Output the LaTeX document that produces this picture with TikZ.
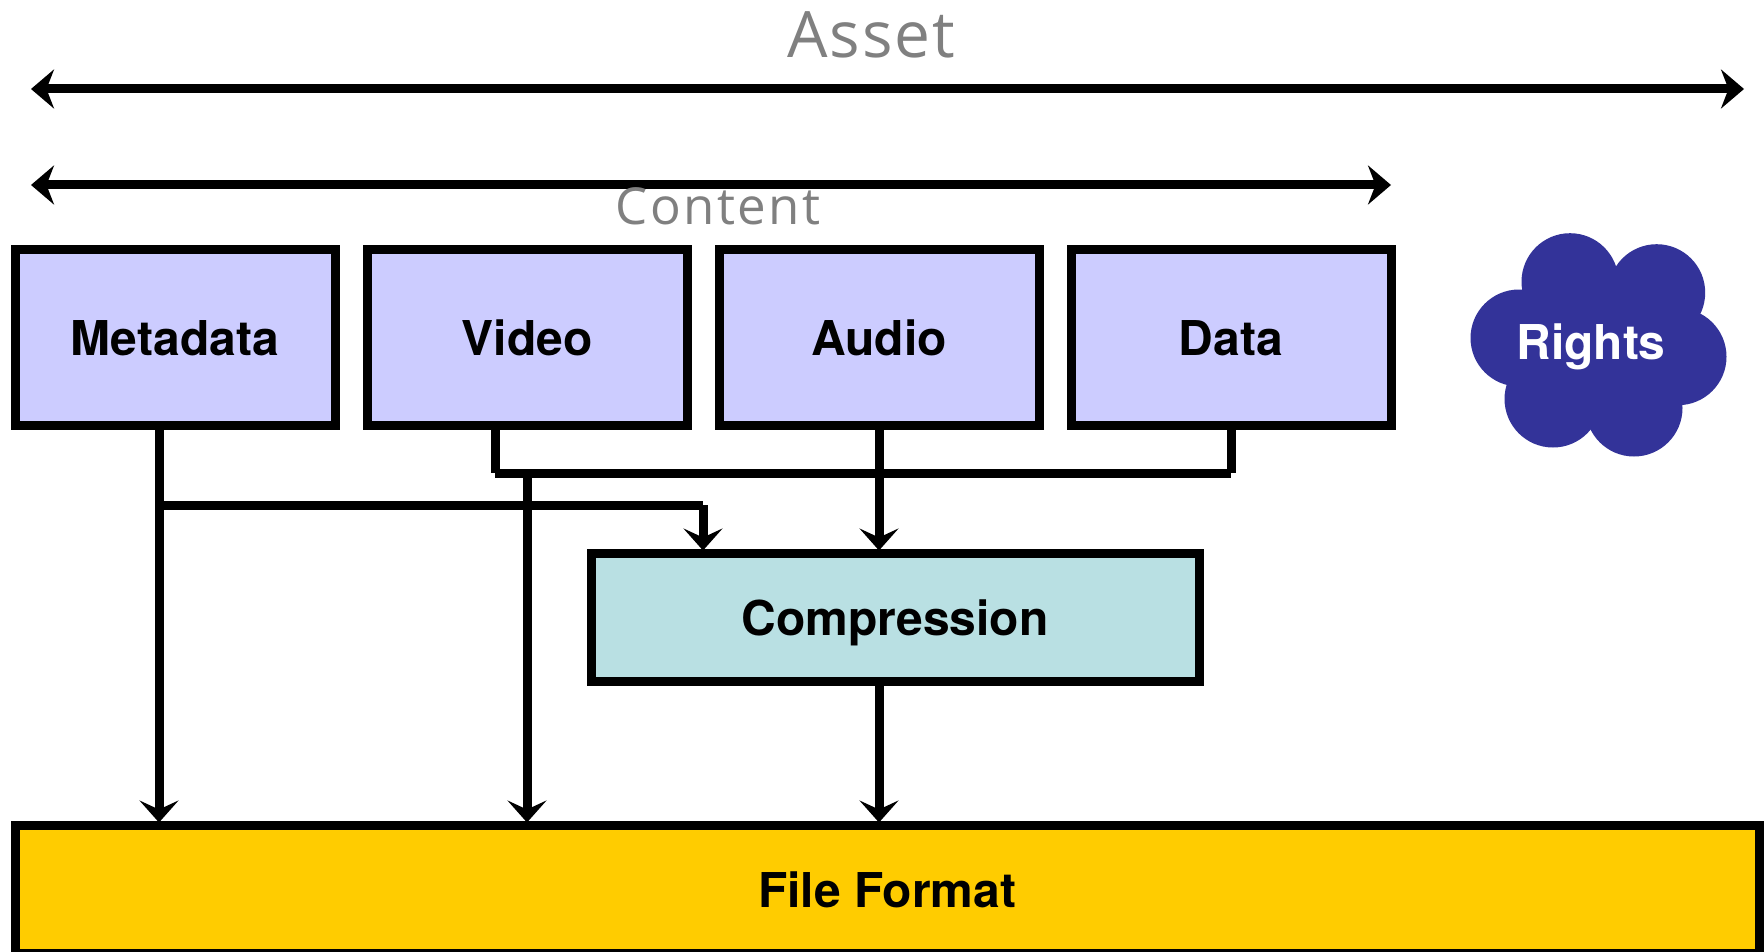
\documentclass[tikz,border=0pt]{standalone}
\usepackage{fontspec}
\setmainfont{TeX Gyre Heros}
\newfontfamily\spanfont{Open Sans}
\usetikzlibrary{arrows.meta}
\definecolor{stagefill}{HTML}{CCCCFF}
\definecolor{compfill}{HTML}{B9E0E3}
\definecolor{formatfill}{HTML}{FFCC00}
\definecolor{rightsfill}{HTML}{333399}
\tikzset{
  labelbase/.style={inner sep=0pt, text height=37pt, text depth=0pt, font=\fontsize{48}{48}\selectfont\bfseries},
  boxbase/.style={labelbase, draw=black, line width=9pt},
  stagebox/.style={boxbase, fill=stagefill, minimum width=320pt, minimum height=176pt},
  compbox/.style={boxbase, fill=compfill, minimum width=608pt, minimum height=128pt},
  formatbox/.style={boxbase, fill=formatfill, minimum width=1744pt, minimum height=128pt},
  wire/.style={line width=9pt},
  wirearrow/.style={wire, shorten >=-2pt, -{Stealth[length=22pt,width=39pt,inset=9pt]}},
  spanarrow/.style={wire, {Stealth[length=23pt,width=39pt,inset=7.5pt]}-{Stealth[length=23pt,width=39pt,inset=7.5pt]}},
  spanlabel/.style={text=gray, anchor=base}
}
\begin{document}
\begin{tikzpicture}[x=1pt,y=-1pt]
  \useasboundingbox (0,0) rectangle (1764,952);

  %% spans
  \coordinate (assetl) at (31,89);
  \coordinate (assetr) at (1744,89);
  \coordinate (contentl) at (31,185);
  \coordinate (contentr) at (1391,185);
  \draw[spanarrow] (assetl) -- (assetr);
  \draw[spanarrow] (contentl) -- (contentr);
  \node[spanlabel, font=\fontsize{64}{64}\selectfont\spanfont\addfontfeature{LetterSpace=3}] (asset) at (871,57.3) {Asset};
  \node[spanlabel, font=\fontsize{51}{51}\selectfont\spanfont\addfontfeature{LetterSpace=4.6}] (content) at (718,225) {Content};

  %% essence boxes
  \node[stagebox] (metadata) at (175,337) {Metadata};
  \node[stagebox] (video) at (527,337) {Video};
  \node[stagebox] (audio) at (879,337) {Audio};
  \node[stagebox] (data) at (1231,337) {Data};
  \node[compbox] (compression) at (895,617) {Compression};
  \node[formatbox] (format) at (887,889) {File Format};

  %% rights
  \foreach \cx/\cy in {1570/281.7, 1656.7/292.7, 1678/356.7, 1634/408, 1553/399, 1519/338}
    \fill[rightsfill] (\cx,\cy) circle (48.5);
  \fill[rightsfill] (1597,345) circle (72);
  \node[labelbase, text=white] (rights) at (1591,341) {Rights};

  %% bus
  \coordinate (busl) at ([xshift=-32pt]video.south |- 0,473);
  \coordinate (busr) at (data.south |- busl);
  \coordinate (busv) at (video.south |- busl);
  \coordinate (mdrop) at ([xshift=-16pt]metadata.south);
  \coordinate (mbus) at (mdrop |- 0,505);
  \coordinate (mend) at ([xshift=-192pt]compression.north |- mbus);
  \draw[wire] ([xshift=-32pt]video.south) -- (busl);
  \draw[wire] (data.south) -- (busr);
  \draw[wire] (busl) -- (busr);
  \draw[wire] (mbus) -- (mend);

  %% arrows
  \draw[wirearrow] (mdrop) -- (mdrop |- format.north);
  \draw[wirearrow] (busv) -- (busv |- format.north);
  \draw[wirearrow] (audio.south) -- (audio.south |- compression.north);
  \draw[wirearrow] (mend) -- ([xshift=-192pt]compression.north);
  \draw[wirearrow] (audio.south |- compression.south) -- (audio.south |- format.north);
\end{tikzpicture}
\end{document}
